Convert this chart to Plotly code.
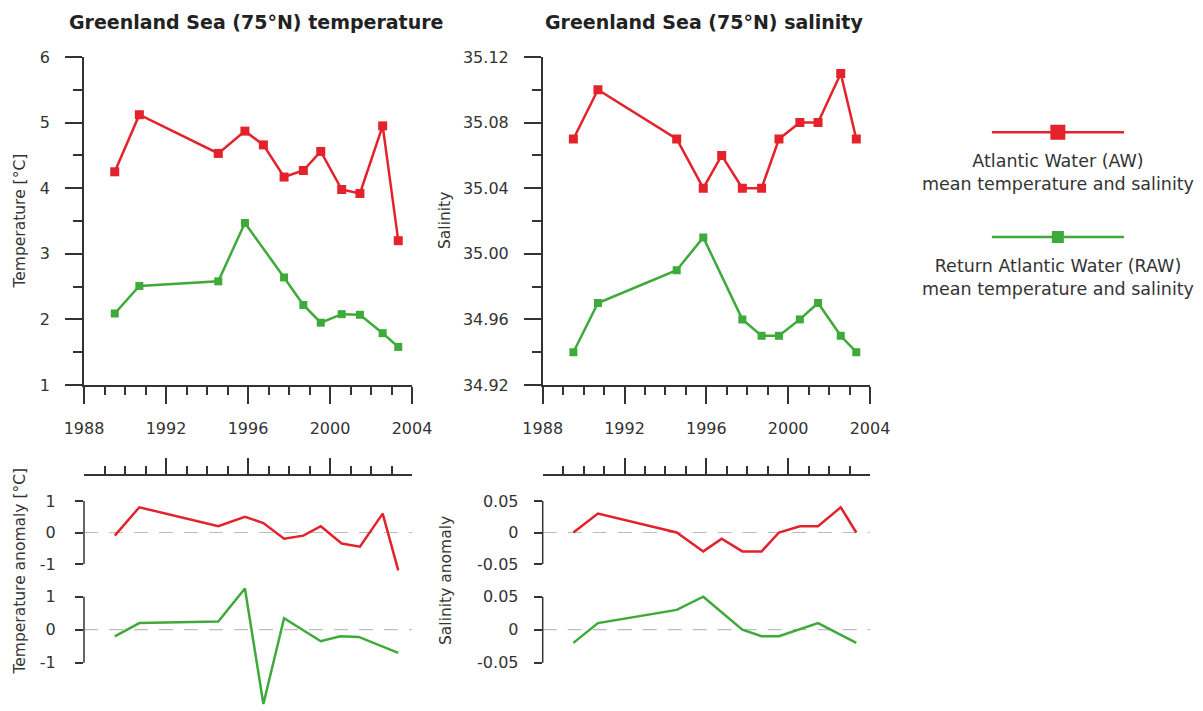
import plotly.graph_objects as go

# ---------------- data ----------------
years_aw = [1989.5, 1990.7, 1994.55, 1995.85, 1996.75, 1997.76, 1998.7, 1999.55, 2000.57, 2001.46, 2002.57, 2003.33]
temp_aw = [4.25, 5.12, 4.53, 4.87, 4.66, 4.17, 4.27, 4.56, 3.98, 3.92, 4.95, 3.20]
sal_aw = [35.07, 35.10, 35.07, 35.04, 35.06, 35.04, 35.04, 35.07, 35.08, 35.08, 35.11, 35.07]

years_raw = [1989.5, 1990.7, 1994.55, 1995.85, 1997.76, 1998.7, 1999.55, 2000.57, 2001.46, 2002.57, 2003.33]
temp_raw = [2.09, 2.51, 2.58, 3.47, 2.64, 2.22, 1.95, 2.08, 2.07, 1.79, 1.58]
sal_raw = [34.94, 34.97, 34.99, 35.01, 34.96, 34.95, 34.95, 34.96, 34.97, 34.95, 34.94]

temp_anom_aw = [-0.1, 0.8, 0.2, 0.5, 0.3, -0.2, -0.1, 0.2, -0.35, -0.45, 0.6, -1.2]
sal_anom_aw = [0.0, 0.03, 0.0, -0.03, -0.01, -0.03, -0.03, 0.0, 0.01, 0.01, 0.04, 0.0]

temp_anom_raw_years = [1989.5, 1990.7, 1994.55, 1995.85, 1996.75, 1997.76, 1999.55, 2000.5, 2001.4, 2003.33]
temp_anom_raw = [-0.2, 0.2, 0.25, 1.25, -2.25, 0.35, -0.35, -0.2, -0.22, -0.7]

sal_anom_raw_years = [1989.5, 1990.7, 1994.55, 1995.85, 1997.76, 1998.7, 1999.55, 2001.46, 2003.33]
sal_anom_raw = [-0.02, 0.01, 0.03, 0.05, 0.0, -0.01, -0.01, 0.01, -0.02]

year_range = [1988, 2004]
temp_ticks = [1, 2, 3, 4, 5, 6]
temp_minor = [1.5, 2.5, 3.5, 4.5, 5.5]
sal_ticks = [34.92, 34.96, 35.00, 35.04, 35.08, 35.12]
sal_minor = [34.94, 34.98, 35.02, 35.06, 35.10]
tanom_ticks = [-1, 0, 1]
tanom_text = ["-1", "0", "1"]
sanom_ticks = [-0.05, 0, 0.05]
sanom_text = ["-0.05", "0", "0.05"]

legend_names = ["Atlantic Water (AW)<br>mean temperature and salinity",
                "Return Atlantic Water (RAW)<br>mean temperature and salinity"]

# ---------------- style ----------------
RED = "#e3222b"
GREEN = "#3daa3a"
AX = "#333333"
FONT = "DejaVu Sans"
OFF = 8                      # page body margin
W, H = 1203 - OFF, 711 - OFF  # figure fills the window to its edges


def fx(p):
    """screen pixel x -> paper fraction"""
    return (p - OFF) / W


def fy(p):
    """screen pixel y -> paper fraction"""
    return 1 - (p - OFF) / H


fig = go.Figure()

# top panels
fig.add_trace(go.Scatter(x=years_aw, y=temp_aw, mode="lines+markers", xaxis="x", yaxis="y",
                         line=dict(color=RED, width=2.5), marker=dict(symbol="square", size=9, color=RED)))
fig.add_trace(go.Scatter(x=years_raw, y=temp_raw, mode="lines+markers", xaxis="x", yaxis="y",
                         line=dict(color=GREEN, width=2.5), marker=dict(symbol="square", size=8, color=GREEN)))
fig.add_trace(go.Scatter(x=years_aw, y=sal_aw, mode="lines+markers", xaxis="x2", yaxis="y2",
                         line=dict(color=RED, width=2.5), marker=dict(symbol="square", size=9, color=RED)))
fig.add_trace(go.Scatter(x=years_raw, y=sal_raw, mode="lines+markers", xaxis="x2", yaxis="y2",
                         line=dict(color=GREEN, width=2.5), marker=dict(symbol="square", size=8, color=GREEN)))

# empty traces so the ruler axes are drawn
fig.add_trace(go.Scatter(x=[], y=[], xaxis="x3", yaxis="y3"))
fig.add_trace(go.Scatter(x=[], y=[], xaxis="x4", yaxis="y4"))

# anomaly panels
fig.add_trace(go.Scatter(x=years_aw, y=temp_anom_aw, mode="lines", xaxis="x5", yaxis="y5",
                         line=dict(color=RED, width=2.5)))
fig.add_trace(go.Scatter(x=temp_anom_raw_years, y=temp_anom_raw, mode="lines", xaxis="x6", yaxis="y6",
                         line=dict(color=GREEN, width=2.5)))
fig.add_trace(go.Scatter(x=years_aw, y=sal_anom_aw, mode="lines", xaxis="x7", yaxis="y7",
                         line=dict(color=RED, width=2.5)))
fig.add_trace(go.Scatter(x=sal_anom_raw_years, y=sal_anom_raw, mode="lines", xaxis="x8", yaxis="y8",
                         line=dict(color=GREEN, width=2.5)))

# legend samples (hidden axis)
for i, (c, ms) in enumerate([(RED, 15), (GREEN, 12)]):
    fig.add_trace(go.Scatter(x=[0, 1], y=[i, i], mode="lines", xaxis="x9", yaxis="y9",
                             line=dict(color=c, width=2.5)))
    fig.add_trace(go.Scatter(x=[0.5], y=[i], mode="markers", xaxis="x9", yaxis="y9",
                             marker=dict(symbol="square", size=ms, color=c)))

tickfont = dict(family=FONT, size=16, color=AX)
LEFT = [fx(84), fx(412)]
RIGHT = [fx(542.7), fx(870)]
TOP = [fy(385), fy(57)]


def year_axis(domain, anchor, ticks, showlabels, length, minorlen):
    return dict(domain=domain, anchor=anchor, range=year_range, tickmode="linear", tick0=1988, dtick=4,
                ticks=ticks, ticklen=length, tickwidth=1.5, tickcolor=AX, automargin=False,
                showline=True, linecolor=AX, linewidth=1.5, showgrid=False, zeroline=False,
                showticklabels=showlabels, tickfont=tickfont, ticklabelstandoff=11,
                minor=dict(tick0=1988, dtick=1, ticks=ticks, ticklen=minorlen, tickwidth=1.5,
                           tickcolor=AX, showgrid=False))


def hidden_x(domain, anchor):
    return dict(domain=domain, anchor=anchor, range=year_range, visible=False, automargin=False)


def anom_y(domain, anchor, rng, vals, text, standoff):
    return dict(domain=domain, anchor=anchor, range=rng, tickmode="array", tickvals=vals, ticktext=text,
                ticks="outside", ticklen=8, tickwidth=1.5, tickcolor=AX, showline=False, automargin=False,
                showgrid=False, zeroline=False, tickfont=tickfont, ticklabelstandoff=standoff)


layout = dict(
    width=W, height=H, margin=dict(l=0, r=0, t=0, b=0, autoexpand=False),
    paper_bgcolor="white", plot_bgcolor="rgba(0,0,0,0)", showlegend=False,
    font=dict(family=FONT, color=AX),
    xaxis=year_axis(LEFT, "y", "outside", True, 17, 8),
    yaxis=dict(domain=TOP, anchor="x", range=[1, 6], tickmode="array", tickvals=temp_ticks,
               ticks="outside", ticklen=17, tickwidth=1.5, tickcolor=AX, showline=True, linecolor=AX,
               linewidth=1.5, showgrid=False, zeroline=False, tickfont=tickfont, ticklabelstandoff=12,
               automargin=False,
               minor=dict(tickmode="array", tickvals=temp_minor, ticks="outside", ticklen=9,
                          tickwidth=1.5, tickcolor=AX, showgrid=False)),
    xaxis2=year_axis(RIGHT, "y2", "outside", True, 17, 8),
    yaxis2=dict(domain=TOP, anchor="x2", range=[34.92, 35.12], tickmode="array", tickvals=sal_ticks,
                tickformat=".2f", ticks="outside", ticklen=17, tickwidth=1.5, tickcolor=AX, showline=True,
                linecolor=AX, linewidth=1.5, showgrid=False, zeroline=False, tickfont=tickfont,
                ticklabelstandoff=12, automargin=False,
                minor=dict(tickmode="array", tickvals=sal_minor, ticks="outside", ticklen=9,
                           tickwidth=1.5, tickcolor=AX, showgrid=False)),
    # rulers
    xaxis3=year_axis(LEFT, "y3", "inside", False, 16, 8),
    yaxis3=dict(domain=[fy(474), fy(450)], anchor="x3", visible=False, range=[0, 1], automargin=False),
    xaxis4=year_axis(RIGHT, "y4", "inside", False, 16, 8),
    yaxis4=dict(domain=[fy(474), fy(450)], anchor="x4", visible=False, range=[0, 1], automargin=False),
    # anomalies
    xaxis5=hidden_x(LEFT, "y5"),
    yaxis5=anom_y([fy(573.45), fy(497.85)], "x5", [-1.3, 1.1], tanom_ticks, tanom_text, 16),
    xaxis6=hidden_x(LEFT, "y6"),
    yaxis6=anom_y([fy(708.9), fy(583.5)], "x6", [-2.4, 1.4], tanom_ticks, tanom_text, 16),
    xaxis7=hidden_x(RIGHT, "y7"),
    yaxis7=anom_y([fy(573.45), fy(497.85)], "x7", [-0.065, 0.055], sanom_ticks, sanom_text, 12),
    xaxis8=hidden_x(RIGHT, "y8"),
    yaxis8=anom_y([fy(669.3), fy(590.1)], "x8", [-0.06, 0.06], sanom_ticks, sanom_text, 12),
    # legend
    xaxis9=dict(domain=[fx(991.7), fx(1124)], anchor="y9", range=[0, 1], visible=False, automargin=False),
    yaxis9=dict(domain=[fy(268.4), fy(100.9)], anchor="x9", range=[1.3, -0.3], visible=False,
                automargin=False),
)
fig.update_layout(**layout)

# anomaly axis lines (span -1..1 / -0.05..0.05) and dashed zero lines
for ax, lo, hi in [("5", -1, 1), ("6", -1, 1), ("7", -0.05, 0.05), ("8", -0.05, 0.05)]:
    fig.add_shape(type="line", xref=f"x{ax} domain", yref=f"y{ax}", x0=0, x1=0, y0=lo, y1=hi,
                  line=dict(color=AX, width=1.5))
    fig.add_shape(type="line", xref=f"x{ax}", yref=f"y{ax}", x0=year_range[0], x1=year_range[1],
                  y0=0, y1=0, layer="below", line=dict(color="#bdbdbd", width=1.2, dash="14px,11px"))

# titles
for txt, x in [("Greenland Sea (75°N) temperature", 256), ("Greenland Sea (75°N) salinity", 704)]:
    fig.add_annotation(text=txt, x=fx(x), y=fy(22), xref="paper", yref="paper", showarrow=False,
                       xanchor="center", yanchor="middle",
                       font=dict(family=FONT, size=19, color="#222222", weight="bold"))

# axis titles
for txt, x, y in [("Temperature [°C]", 19.5, 221), ("Salinity", 445, 221),
                  ("Temperature anomaly [°C]", 19.5, 571), ("Salinity anomaly", 446, 581)]:
    fig.add_annotation(text=txt, x=fx(x), y=fy(y), xref="paper", yref="paper", showarrow=False,
                       textangle=-90, xanchor="center", yanchor="middle",
                       font=dict(family=FONT, size=15.5, color=AX))

# legend texts
for i, name in enumerate(legend_names):
    fig.add_annotation(text=name, x=0.5, y=i, xref="x9", yref="y9", showarrow=False,
                       xanchor="center", yanchor="top", yshift=-17,
                       font=dict(family=FONT, size=17.5, color=AX))

fig.write_html("out.html")
